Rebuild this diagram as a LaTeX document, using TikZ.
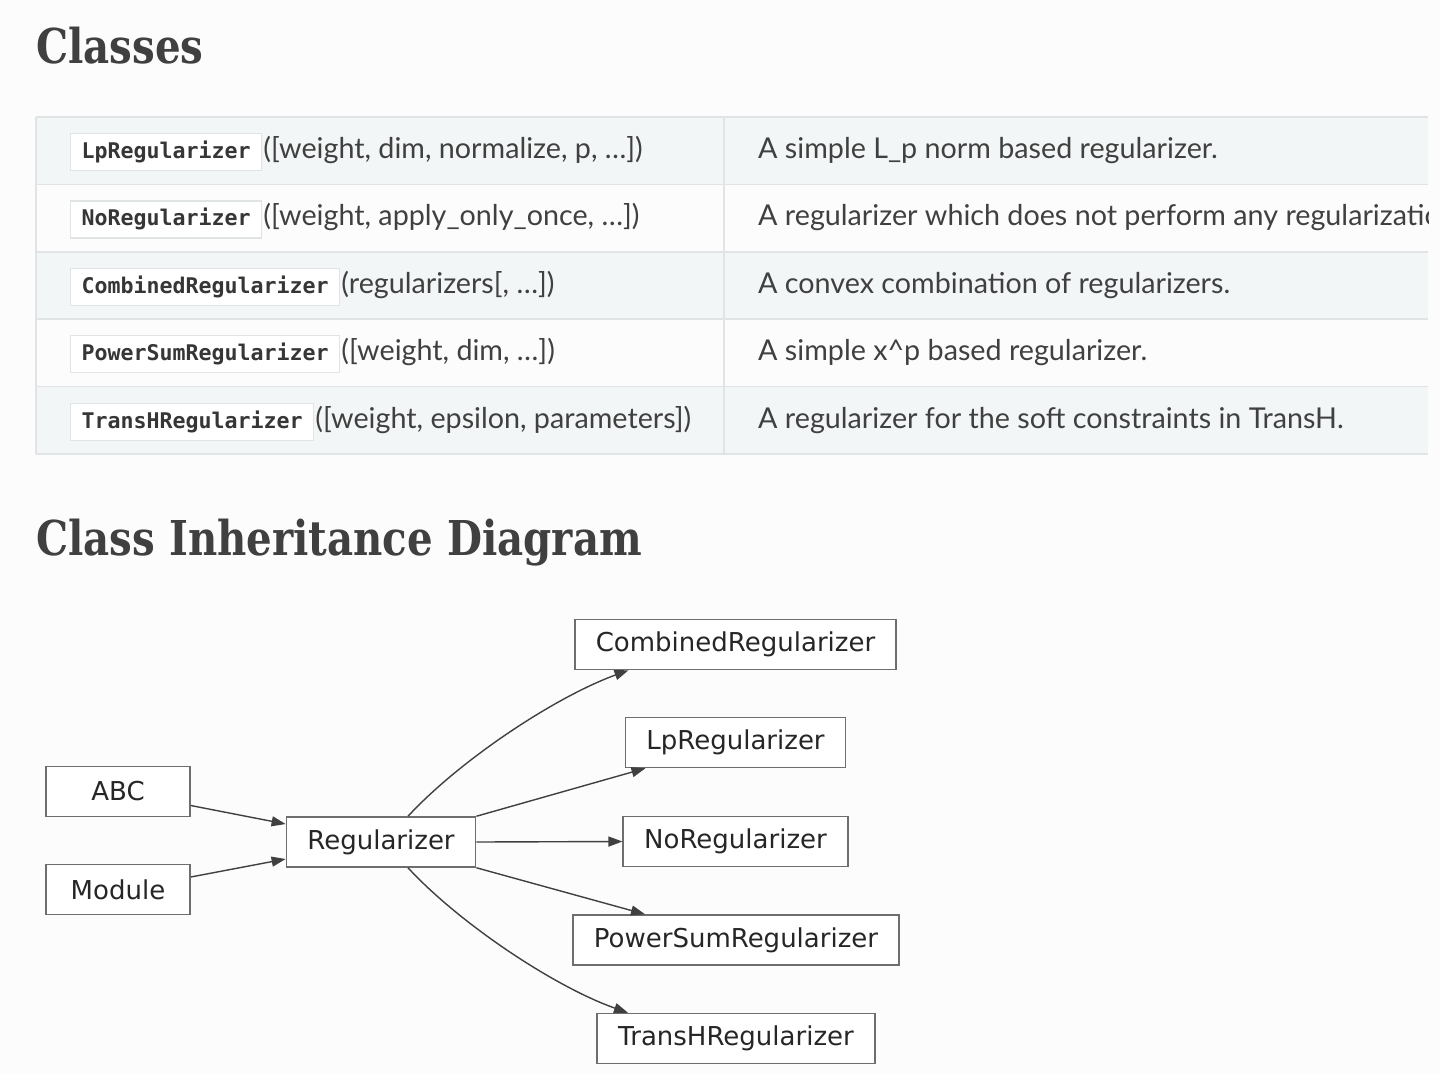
\documentclass[tikz,border=0pt]{standalone}
\usepackage{fontspec}
\setmainfont{Lato}
\newfontfamily\headfont[FakeStretch=0.84]{DejaVu Serif}
\newfontfamily\codefont{DejaVu Sans Mono}
\newfontfamily\dotfont{DejaVu Sans}
\usepackage{tikz}
\usetikzlibrary{arrows.meta}
\tikzset{>={Triangle[length=14pt,width=10pt]}}
\definecolor{ink}{HTML}{404040}
\definecolor{pagebg}{HTML}{FCFCFC}
\definecolor{rowodd}{HTML}{F3F6F6}
\definecolor{rulegray}{HTML}{E1E4E5}
\definecolor{boxline}{HTML}{6E6E6E}

\begin{document}
\begin{tikzpicture}[x=1pt,y=-1pt]
      \tikzstyle{heading}=[anchor=base west,inner sep=0pt,text=ink,font=\headfont\bfseries\fontsize{48}{56}\selectfont]
      \tikzstyle{codebox}=[draw=rulegray,line width=1.2pt,fill=white,anchor=west,inner xsep=11pt,minimum height=37pt,text=ink!85!black,font=\codefont\bfseries\fontsize{21.6}{24}\selectfont]
      \tikzstyle{sig}=[anchor=base west,inner xsep=1pt,inner ysep=0pt,text=ink,font=\fontsize{28.7}{32}\selectfont]
      \tikzstyle{cls}=[draw=boxline,line width=1.5pt,fill=white,minimum width=144pt,minimum height=50pt,inner xsep=21pt,text=black!85,font=\dotfont\fontsize{26}{30}\selectfont]
      \tikzstyle{edge}=[line width=1.4pt,draw=black!75,->]
      \fill[pagebg] (0,0) rectangle (1440,1074);

      \node[heading] (classes) at (36,63) {Classes};

      % table
      \foreach \y in {117,251.8,386.6}
        \fill[rowodd] (36,\y) rectangle (1428,\y+67.4);
      \foreach \y in {117,184.4,251.8,319.2,386.6,454}
        \draw[rulegray,line width=1.5pt] (36,\y) -- (1428,\y);
      \draw[rulegray,line width=1.5pt] (36,117) -- (36,454) (724,117) -- (724,454);
      \coordinate (desccol) at (757,0);

      \node[codebox] (code1) at (70,152) {LpRegularizer};
      \node[sig] (sig1) at (code1.base east) {([weight, dim, normalize, p, …])};
      \node[codebox] (code2) at (70,219.4) {NoRegularizer};
      \node[sig] (sig2) at (code2.base east) {([weight, apply\_only\_once, …])};
      \node[codebox] (code3) at (70,286.8) {CombinedRegularizer};
      \node[sig] (sig3) at (code3.base east) {(regularizers[, …])};
      \node[codebox] (code4) at (70,354.2) {PowerSumRegularizer};
      \node[sig] (sig4) at (code4.base east) {([weight, dim, …])};
      \node[codebox] (code5) at (70,421.6) {TransHRegularizer};
      \node[sig] (sig5) at (code5.base east) {([weight, epsilon, parameters])};

      \begin{scope}
        \clip (36,117) rectangle (1428,454);
        \node[sig] (desc1) at (code1.base -| desccol) {A simple L\_p norm based regularizer.};
        \node[sig] (desc2) at (code2.base -| desccol) {A regularizer which does not perform any regularization.};
        \node[sig] (desc3) at (code3.base -| desccol) {A convex combination of regularizers.};
        \node[sig] (desc4) at (code4.base -| desccol) {A simple x\textasciicircum p based regularizer.};
        \node[sig] (desc5) at (code5.base -| desccol) {A regularizer for the soft constraints in TransH.};
      \end{scope}

      \node[heading] (diagram) at (36,555) {Class Inheritance Diagram};

      % inheritance graph
      \node[cls] (abc) at (118,791.5) {ABC};
      \node[cls] (module) at (118,889.5) {Module};
      \node[cls] (reg) at (381,842) {Regularizer};
      \node[cls] (comb) at (735.5,644.5) {CombinedRegularizer};
      \node[cls] (lp) at (735.5,742.5) {LpRegularizer};
      \node[cls] (noreg) at (735.5,841.5) {NoRegularizer};
      \node[cls] (powsum) at (736,940) {PowerSumRegularizer};
      \node[cls] (transh) at (736,1038.5) {TransHRegularizer};

      \draw[edge] ([yshift=-14pt]abc.east) -- ([yshift=18pt]reg.west);
      \draw[edge] ([yshift=12.5pt]module.east) -- ([yshift=-17pt]reg.west);
      \draw[edge] ([xshift=27pt]reg.north) .. controls (460,760) and (555,697) .. ([xshift=-107pt]comb.south);
      \draw[edge] (reg.north east) -- ([xshift=-90pt]lp.south);
      \draw[edge] (reg.east) -- (noreg.west);
      \draw[edge] (reg.south east) -- ([xshift=-91pt]powsum.north);
      \draw[edge] ([xshift=27pt]reg.south) .. controls (460,924) and (555,987) .. ([xshift=-108pt]transh.north);
    \end{tikzpicture}
\end{document}
